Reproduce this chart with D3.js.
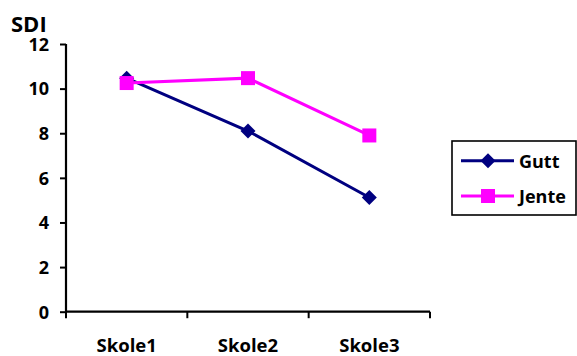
<!DOCTYPE html>
<html><head><meta charset="utf-8">
<script src="https://cdn.jsdelivr.net/npm/d3@7"></script>
<style>body{margin:0;background:#fff}svg{display:block}text{font-family:"Open Sans",sans-serif;font-weight:bold;fill:#000}</style>
</head><body><svg id="c" width="577" height="356"></svg>
<script>
const categories = ["Skole1", "Skole2", "Skole3"];
const gutt = [10.47, 8.1, 5.12];
const jente = [10.25, 10.47, 7.9];
const yTicks = [0, 2, 4, 6, 8, 10, 12];
const seriesNames = ["Gutt", "Jente"];

const svg = d3.select("#c");
const x = d3.scaleBand().domain(categories).range([66, 430]);
const y = d3.scaleLinear().domain([0, 12]).range([311.7, 44]);

const yAxis = svg.append("g").attr("transform", "translate(66,0)")
  .call(d3.axisLeft(y).tickValues(yTicks).tickSize(6).tickPadding(11).tickFormat(d3.format("d")));
yAxis.selectAll("text").style("font-size", "18px").attr("dy", "0.35em");
yAxis.select(".domain").attr("stroke-width", 2.2).attr("d", "M0," + y(12) + "V" + y(0));
yAxis.selectAll(".tick line").attr("stroke-width", 2);

const xAxis = svg.append("g").attr("transform", "translate(0," + y(0) + ")")
  .call(d3.axisBottom(x).tickSize(0).tickPadding(0));
xAxis.selectAll("text").style("font-size", "18.5px").attr("dy", "0").attr("y", 40.5);
xAxis.select(".domain").attr("stroke-width", 2.2).attr("d", "M66,0H430");
xAxis.selectAll(".tick line").remove();
const bounds = [66].concat(categories.map(c => x(c) + x.bandwidth()));
xAxis.selectAll(".bt").data(bounds).enter().append("line")
  .attr("x1", d => d).attr("x2", d => d).attr("y1", 0).attr("y2", 6.5)
  .attr("stroke", "#000").attr("stroke-width", 2);

svg.append("text").attr("x", 11).attr("y", 31.5).style("font-size", "22px").text("SDI");

const cx = d => x(d) + x.bandwidth() / 2;
const line = d3.line().x((d, i) => cx(categories[i])).y(d => y(d));
const colors = {Gutt: "#000080", Jente: "#FF00FF"};

function diamond(g, px, py, col) {
  const r = 7.5;
  g.append("path").attr("d", `M${px},${py - r}L${px + r},${py}L${px},${py + r}L${px - r},${py}Z`).attr("fill", col);
}
function square(g, px, py, col) {
  const s = 14;
  g.append("rect").attr("x", px - s / 2).attr("y", py - s / 2).attr("width", s).attr("height", s).attr("fill", col);
}

svg.append("path").datum(gutt).attr("d", line).attr("fill", "none").attr("stroke", colors.Gutt).attr("stroke-width", 3);
const gm = svg.append("g");
gutt.forEach((v, i) => diamond(gm, cx(categories[i]), y(v), colors.Gutt));
svg.append("path").datum(jente).attr("d", line).attr("fill", "none").attr("stroke", colors.Jente).attr("stroke-width", 3);
const jm = svg.append("g");
jente.forEach((v, i) => square(jm, cx(categories[i]), y(v), colors.Jente));

// legend
const lg = svg.append("g");
lg.append("rect").attr("x", 452).attr("y", 141).attr("width", 124).attr("height", 74)
  .attr("fill", "#fff").attr("stroke", "#000").attr("stroke-width", 1.6);
const ly = [160.7, 196];
seriesNames.forEach((n, i) => {
  lg.append("line").attr("x1", 461).attr("x2", 514).attr("y1", ly[i]).attr("y2", ly[i])
    .attr("stroke", colors[n]).attr("stroke-width", 3);
  if (n === "Gutt") diamond(lg, 488, ly[i], colors[n]); else square(lg, 488, ly[i], colors[n]);
  lg.append("text").attr("x", 519).attr("y", ly[i] + 7).style("font-size", "18px").text(n);
});
</script></body></html>
